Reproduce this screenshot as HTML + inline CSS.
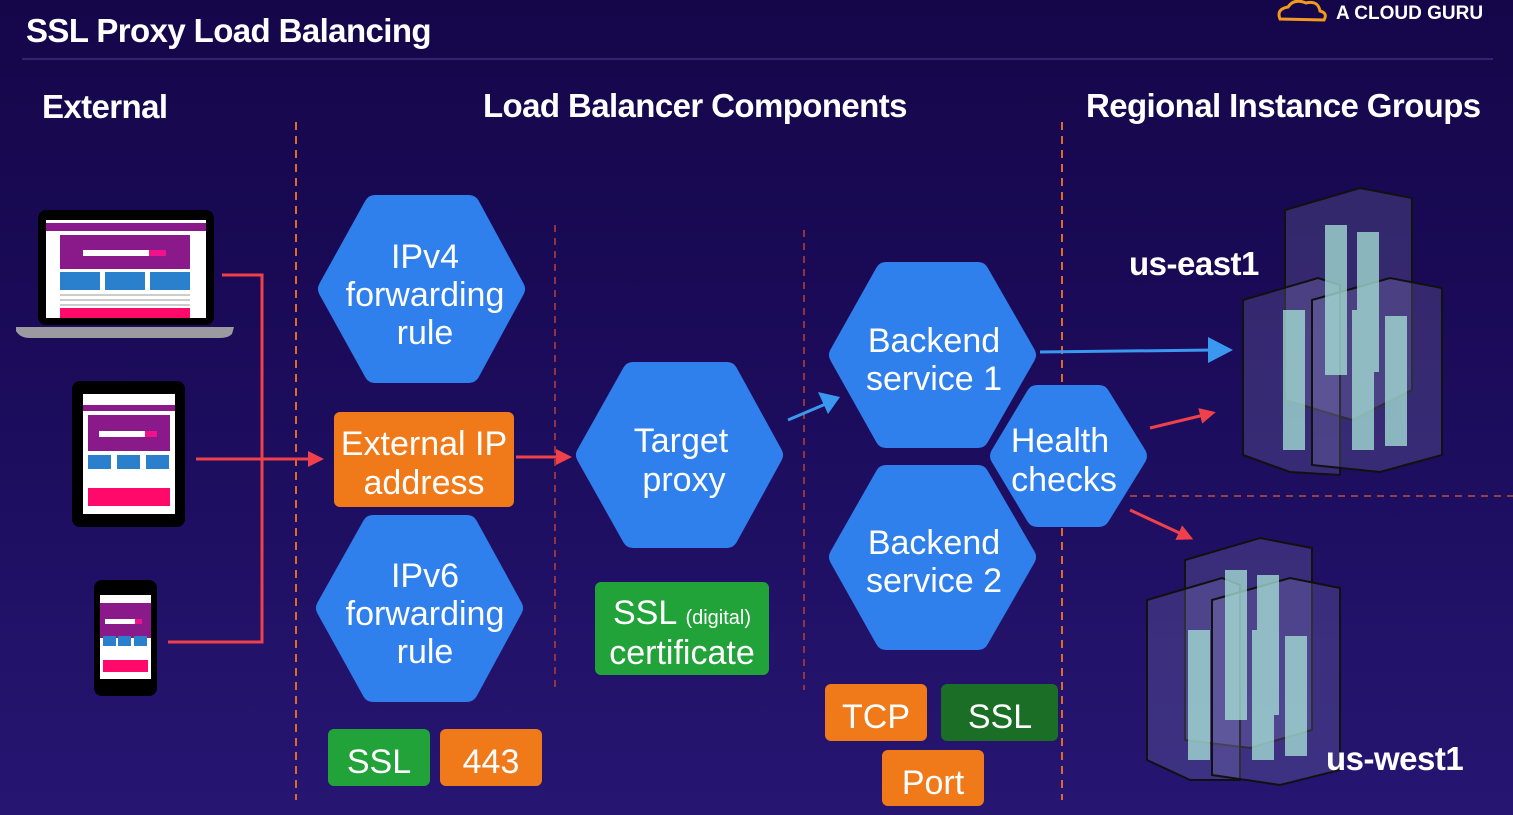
<!DOCTYPE html>
<html><head><meta charset="utf-8"><style>
html,body{margin:0;padding:0;width:1513px;height:815px;overflow:hidden}
body{background:linear-gradient(180deg,#15064a 0%,#1c0c5c 50%,#261672 100%);font-family:"Liberation Sans",sans-serif}
svg{position:absolute;left:0;top:0}
text{font-family:"Liberation Sans",sans-serif}
</style></head><body>
<svg width="1513" height="815" viewBox="0 0 1513 815">
<defs>
<marker id="ar" markerWidth="16" markerHeight="16" refX="8" refY="8" orient="auto" markerUnits="userSpaceOnUse" viewBox="0 0 16 16"><path d="M0,0 L16,8 L0,16 z" fill="#f0404a"/></marker>
</defs>
<!-- header -->
<text x="26" y="42" font-size="33" font-weight="bold" fill="#fff" letter-spacing="-0.6">SSL Proxy Load Balancing</text>
<line x1="22" y1="59" x2="1493" y2="59" stroke="#2e2670" stroke-width="2"/>
<g fill="none" stroke="#f39a1e" stroke-width="3"><path d="M1280,19 q-4,-10 8,-12 q6,-9 18,-4 q12,-3 14,8 q8,2 4,9 z"/></g>
<text x="1336" y="19" font-size="19" font-weight="bold" fill="#fff">A CLOUD GURU</text>
<text x="42" y="118" font-size="33" font-weight="bold" fill="#fff" letter-spacing="-0.6">External</text>
<text x="483" y="117" font-size="33" font-weight="bold" fill="#fff" letter-spacing="-0.6">Load Balancer Components</text>
<text x="1086" y="117" font-size="33" font-weight="bold" fill="#fff" letter-spacing="-0.6">Regional Instance Groups</text>
<!-- dashed separators -->
<g stroke="#e0682a" stroke-dasharray="8,6" stroke-width="2">
<line x1="296" y1="122" x2="296" y2="800"/><line x1="1062" y1="122" x2="1062" y2="800"/>
</g>
<g stroke="#b8403a" stroke-dasharray="7,6" stroke-width="1.5">
<line x1="555" y1="225" x2="555" y2="690"/><line x1="804" y1="230" x2="804" y2="690"/>
<line x1="1130" y1="496" x2="1513" y2="496" stroke="#b8503a"/>
</g>
<!-- devices -->
<rect x="38" y="210" width="176" height="115" rx="8" fill="#000"/>
<rect x="46" y="220" width="160" height="98" fill="#fff"/>
<rect x="46" y="223" width="160" height="8" fill="#8a1a8a"/>
<rect x="60" y="235" width="130" height="34" fill="#8a1a8a"/>
<rect x="83" y="250" width="66" height="6" fill="#fff"/><rect x="149" y="250" width="17" height="6" fill="#f0128a"/>
<rect x="60" y="272" width="40" height="18" fill="#2a80cc"/><rect x="105" y="272" width="40" height="18" fill="#2a80cc"/><rect x="150" y="272" width="40" height="18" fill="#2a80cc"/>
<g fill="#ccc"><rect x="60" y="294" width="130" height="2"/><rect x="60" y="299" width="130" height="2"/><rect x="60" y="304" width="130" height="2"/></g>
<rect x="60" y="308" width="130" height="10" fill="#ff0a6a"/>
<path d="M16,327 L234,327 L232,334 Q228,338 220,338 L30,338 Q20,338 16,331 z" fill="#9a9aa0"/>
<rect x="72" y="381" width="113" height="146" rx="8" fill="#000"/>
<rect x="83" y="394" width="92" height="120" fill="#fff"/>
<rect x="83" y="405" width="92" height="6" fill="#8a1a8a"/>
<rect x="88" y="415" width="82" height="36" fill="#8a1a8a"/>
<rect x="99" y="431" width="46" height="6" fill="#fff"/><rect x="145" y="431" width="12" height="6" fill="#f0128a"/>
<rect x="88" y="455" width="23" height="14" fill="#2a80cc"/><rect x="117" y="455" width="23" height="14" fill="#2a80cc"/><rect x="146" y="455" width="23" height="14" fill="#2a80cc"/>
<rect x="88" y="488" width="82" height="18" fill="#ff0a6a"/>
<rect x="94" y="580" width="63" height="116" rx="8" fill="#000"/>
<rect x="100" y="595" width="51" height="84" fill="#fff"/>
<rect x="100" y="603" width="51" height="35" fill="#8a1a8a"/>
<rect x="105" y="619" width="30" height="5" fill="#fff"/><rect x="135" y="619" width="7" height="5" fill="#f0128a"/>
<rect x="103" y="636" width="13" height="10" fill="#2a80cc"/><rect x="118" y="636" width="13" height="10" fill="#2a80cc"/><rect x="134" y="636" width="13" height="10" fill="#2a80cc"/>
<rect x="103" y="660" width="45" height="12" fill="#ff0a6a"/>
<!-- red connectors -->
<g fill="none" stroke="#f0404a" stroke-width="3">
<path d="M222,275 L262,275 L262,642 L168,642"/>
<path d="M196,459 L316,459" marker-end="url(#ar)"/>
<path d="M516,457 L564,457" marker-end="url(#ar)"/>
<path d="M1150,428 L1208,414" marker-end="url(#ar)"/>
<path d="M1130,510 L1186,536" marker-end="url(#ar)"/>
</g>
<g fill="none" stroke="#3a98f0" stroke-width="3">
<path d="M788,420 L828,403"/><path d="M1040,352 L1215,350"/>
</g>
<path d="M840,397 L818,392 L828,414 z" fill="#3a98f0"/>
<path d="M1233,350 L1208,337 L1208,363 z" fill="#3a98f0"/>
<!-- hexagons -->
<g fill="#2f7fec" stroke="#2f7fec" stroke-width="22" stroke-linejoin="round">
<polygon points="329,289 375,206 469,206 514,289 469,372 375,372"/>
<polygon points="327,608 373,526 467,526 512,608 467,691 373,691"/>
<polygon points="587,455 633,373 727,373 772,455 727,537 633,537"/>
<polygon points="840,355 886,273 978,273 1025,355 978,437 886,437"/>
<polygon points="840,557 886,476 978,476 1025,557 978,639 886,639"/>
<polygon points="1001,456 1037,396 1099,396 1136,456 1099,516 1037,516"/>
</g>
<g fill="#fff" font-size="34" text-anchor="middle">
<text x="425" y="268">IPv4</text><text x="425" y="306">forwarding</text><text x="425" y="344">rule</text>
<text x="425" y="587">IPv6</text><text x="425" y="625">forwarding</text><text x="425" y="663">rule</text>
<text x="681" y="452">Target</text><text x="684" y="491">proxy</text>
<text x="934" y="352">Backend</text><text x="934" y="390">service 1</text>
<text x="934" y="554">Backend</text><text x="934" y="592">service 2</text>
<text x="1060" y="452">Health</text><text x="1064" y="491">checks</text>
</g>
<!-- boxes -->
<rect x="334" y="412" width="180" height="95" rx="6" fill="#f07a1a"/>
<rect x="328" y="729" width="102" height="57" rx="6" fill="#22a33a"/>
<rect x="440" y="729" width="102" height="57" rx="6" fill="#f07a1a"/>
<rect x="595" y="582" width="174" height="93" rx="6" fill="#22a33a"/>
<rect x="825" y="684" width="102" height="57" rx="6" fill="#f07a1a"/>
<rect x="941" y="684" width="117" height="57" rx="6" fill="#1b6e25"/>
<rect x="882" y="750" width="102" height="56" rx="6" fill="#f07a1a"/>
<g fill="#fff" font-size="34" text-anchor="middle">
<text x="424" y="455">External IP</text><text x="424" y="494">address</text>
<text x="379" y="773">SSL</text><text x="491" y="773">443</text>
<text x="682" y="624">SSL <tspan font-size="20">(digital)</tspan></text><text x="682" y="664">certificate</text>
<text x="876" y="728">TCP</text><text x="1000" y="728">SSL</text><text x="933" y="794">Port</text>
</g>
<!-- servers -->
<g fill="rgba(150,150,200,0.22)" stroke="#111" stroke-width="2">
<path d="M1285,210 L1360,188 L1412,198 L1412,390 L1352,420 L1285,400 z"/>
<path d="M1243,300 L1318,278 L1340,285 L1340,475 L1290,472 L1243,455 z"/>
<path d="M1312,300 L1390,278 L1442,288 L1442,455 L1380,472 L1312,465 z"/>
<path d="M1185,560 L1260,538 L1312,548 L1312,730 L1250,748 L1185,740 z"/>
<path d="M1147,600 L1222,578 L1240,585 L1240,780 L1190,780 L1147,760 z"/>
<path d="M1212,600 L1290,578 L1340,588 L1340,770 L1280,785 L1212,775 z"/>
</g>
<g fill="#a8e4d8" opacity="0.75">
<rect x="1325" y="225" width="22" height="150"/><rect x="1357" y="232" width="22" height="140"/>
<rect x="1283" y="310" width="22" height="140"/><rect x="1352" y="310" width="22" height="140"/><rect x="1385" y="316" width="22" height="130"/>
<rect x="1225" y="570" width="22" height="150"/><rect x="1257" y="575" width="22" height="140"/>
<rect x="1188" y="630" width="22" height="130"/><rect x="1252" y="630" width="22" height="130"/><rect x="1285" y="636" width="22" height="120"/>
</g>
<g fill="#fff" font-size="33" font-weight="bold" letter-spacing="-0.5">
<text x="1129" y="275">us-east1</text>
<text x="1326" y="770">us-west1</text>
</g>
</svg>
</body></html>
